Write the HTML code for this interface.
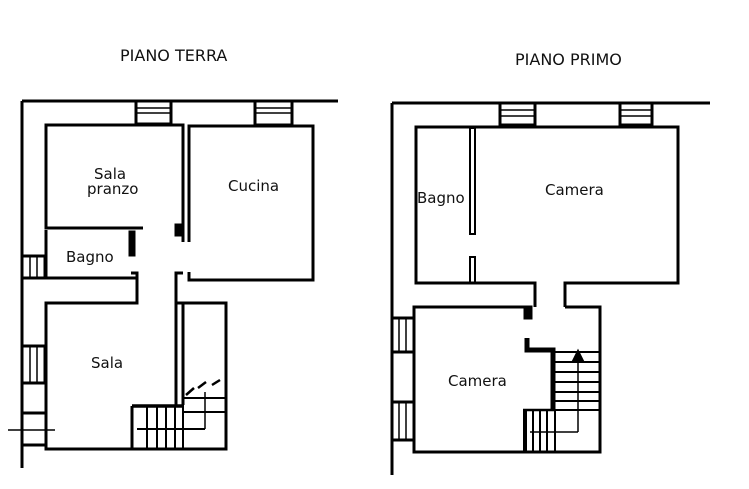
<!DOCTYPE html>
<html><head><meta charset="utf-8"><style>
html,body{margin:0;padding:0;background:#fff;}
svg{display:block}
text{font-family:"DejaVu Sans","Liberation Sans",sans-serif;font-size:15px;fill:#111}
text.t{font-size:16px}
</style></head><body>
<svg width="749" height="489" viewBox="0 0 749 489" xmlns="http://www.w3.org/2000/svg">
<g stroke="#000" fill="none" stroke-width="3">
<line x1="22" y1="101" x2="338" y2="101"/>
<line x1="22" y1="101" x2="22" y2="468"/>
<rect x="136" y="101" width="35" height="23"/>
<line x1="136" y1="108" x2="171" y2="108" stroke-width="1.5"/><line x1="136" y1="113" x2="171" y2="113" stroke-width="1.5"/>
<rect x="255" y="101" width="37" height="24"/>
<line x1="255" y1="108" x2="292" y2="108" stroke-width="1.5"/><line x1="255" y1="113" x2="292" y2="113" stroke-width="1.5"/>
<polyline points="183,242 183,125 46,125 46,228 142,228"/>
<line x1="46" y1="228" x2="143" y2="228" stroke-width="3"/>
<polyline points="189,242 189,126 313,126 313,280 189,280 189,272"/>
<rect x="176" y="225" width="7" height="10" fill="#000"/>
<polyline points="46,230 46,278 22,278"/>
<line x1="46" y1="278" x2="137" y2="278"/>
<rect x="130" y="232" width="4" height="23" fill="#000"/>
<polyline points="131,273 137,273 137,303 46,303 46,449 226,449 226,303 183,303"/>
<polyline points="183,303 176,303 176,273 183,273"/>
<line x1="176" y1="303" x2="176" y2="405"/>
<line x1="183" y1="303" x2="183" y2="405"/>
<rect x="22" y="256" width="23" height="22"/>
<line x1="30" y1="256" x2="30" y2="278" stroke-width="1.5"/><line x1="37" y1="256" x2="37" y2="278" stroke-width="1.5"/>
<rect x="22" y="346" width="23" height="37"/>
<line x1="30" y1="346" x2="30" y2="383" stroke-width="1.5"/><line x1="37" y1="346" x2="37" y2="383" stroke-width="1.5"/>
<line x1="22" y1="413" x2="46" y2="413"/><line x1="22" y1="445" x2="46" y2="445"/>
<line x1="8" y1="430" x2="55" y2="430" stroke-width="1.5"/>
<line x1="132" y1="406" x2="183" y2="406" stroke-width="3.5"/>
<line x1="132" y1="406" x2="132" y2="449"/>
<line x1="137" y1="429" x2="205" y2="429" stroke-width="2"/>
<line x1="147" y1="406" x2="147" y2="449" stroke-width="2"/>
<line x1="157" y1="406" x2="157" y2="449" stroke-width="2"/>
<line x1="166" y1="406" x2="166" y2="449" stroke-width="2"/>
<line x1="175" y1="406" x2="175" y2="449" stroke-width="2"/>
<line x1="183" y1="395" x2="183" y2="449" stroke-width="2"/>
<line x1="183" y1="398" x2="226" y2="398" stroke-width="2"/>
<line x1="183" y1="412" x2="226" y2="412" stroke-width="2"/>
<line x1="205" y1="392" x2="205" y2="429" stroke-width="1.5"/>
<path d="M186 395 L194 388 M198 388 L206 382 M212 385 L220 380" stroke-width="2.5"/>
<line x1="392" y1="103" x2="710" y2="103"/>
<line x1="392" y1="103" x2="392" y2="475"/>
<rect x="500" y="103" width="35" height="22"/>
<line x1="500" y1="110" x2="535" y2="110" stroke-width="1.5"/><line x1="500" y1="116" x2="535" y2="116" stroke-width="1.5"/>
<rect x="620" y="103" width="32" height="22"/>
<line x1="620" y1="110" x2="652" y2="110" stroke-width="1.5"/><line x1="620" y1="116" x2="652" y2="116" stroke-width="1.5"/>
<polyline points="535,307 535,283 416,283 416,127 678,127 678,283 565,283 565,307"/>
<rect x="470" y="128" width="5" height="106" stroke-width="2"/>
<rect x="470" y="257" width="5" height="26" stroke-width="2"/>
<polyline points="527,307 414,307 414,452 600,452 600,307 565,307"/>
<rect x="525" y="307" width="6" height="11" fill="#000"/>
<polyline points="527,338 527,350 553,350 553,410" stroke-width="5"/>
<rect x="392" y="318" width="22" height="34"/>
<line x1="399" y1="318" x2="399" y2="352" stroke-width="1.5"/><line x1="406" y1="318" x2="406" y2="352" stroke-width="1.5"/>
<rect x="392" y="402" width="22" height="38"/>
<line x1="399" y1="402" x2="399" y2="440" stroke-width="1.5"/><line x1="406" y1="402" x2="406" y2="440" stroke-width="1.5"/>
<line x1="555" y1="352" x2="600" y2="352" stroke-width="2"/>
<line x1="555" y1="362" x2="600" y2="362" stroke-width="2"/>
<line x1="555" y1="372" x2="600" y2="372" stroke-width="2"/>
<line x1="555" y1="382" x2="600" y2="382" stroke-width="2"/>
<line x1="555" y1="392" x2="600" y2="392" stroke-width="2"/>
<line x1="555" y1="401" x2="600" y2="401" stroke-width="2"/>
<line x1="555" y1="410" x2="600" y2="410" stroke-width="2"/>
<line x1="578" y1="356" x2="578" y2="432" stroke-width="1.5"/>
<line x1="530" y1="432" x2="578" y2="432" stroke-width="1.5"/>
<path d="M578 352 L574 360 L582 360 Z" fill="#000"/>
<line x1="523" y1="410" x2="555" y2="410" stroke-width="2.5"/>
<line x1="525" y1="410" x2="525" y2="452" stroke-width="4"/>
<line x1="533" y1="410" x2="533" y2="452" stroke-width="2"/>
<line x1="540" y1="410" x2="540" y2="452" stroke-width="2"/>
<line x1="547" y1="410" x2="547" y2="452" stroke-width="2"/>
<line x1="555" y1="410" x2="555" y2="452" stroke-width="2"/>
</g>
<text class="t" x="120" y="61">PIANO TERRA</text>
<text class="t" x="515" y="65">PIANO PRIMO</text>
<text x="94" y="179">Sala</text>
<text x="87" y="194">pranzo</text>
<text x="228" y="191">Cucina</text>
<text x="66" y="262">Bagno</text>
<text x="91" y="368">Sala</text>
<text x="417" y="203">Bagno</text>
<text x="545" y="195">Camera</text>
<text x="448" y="386">Camera</text>
</svg>
</body></html>
